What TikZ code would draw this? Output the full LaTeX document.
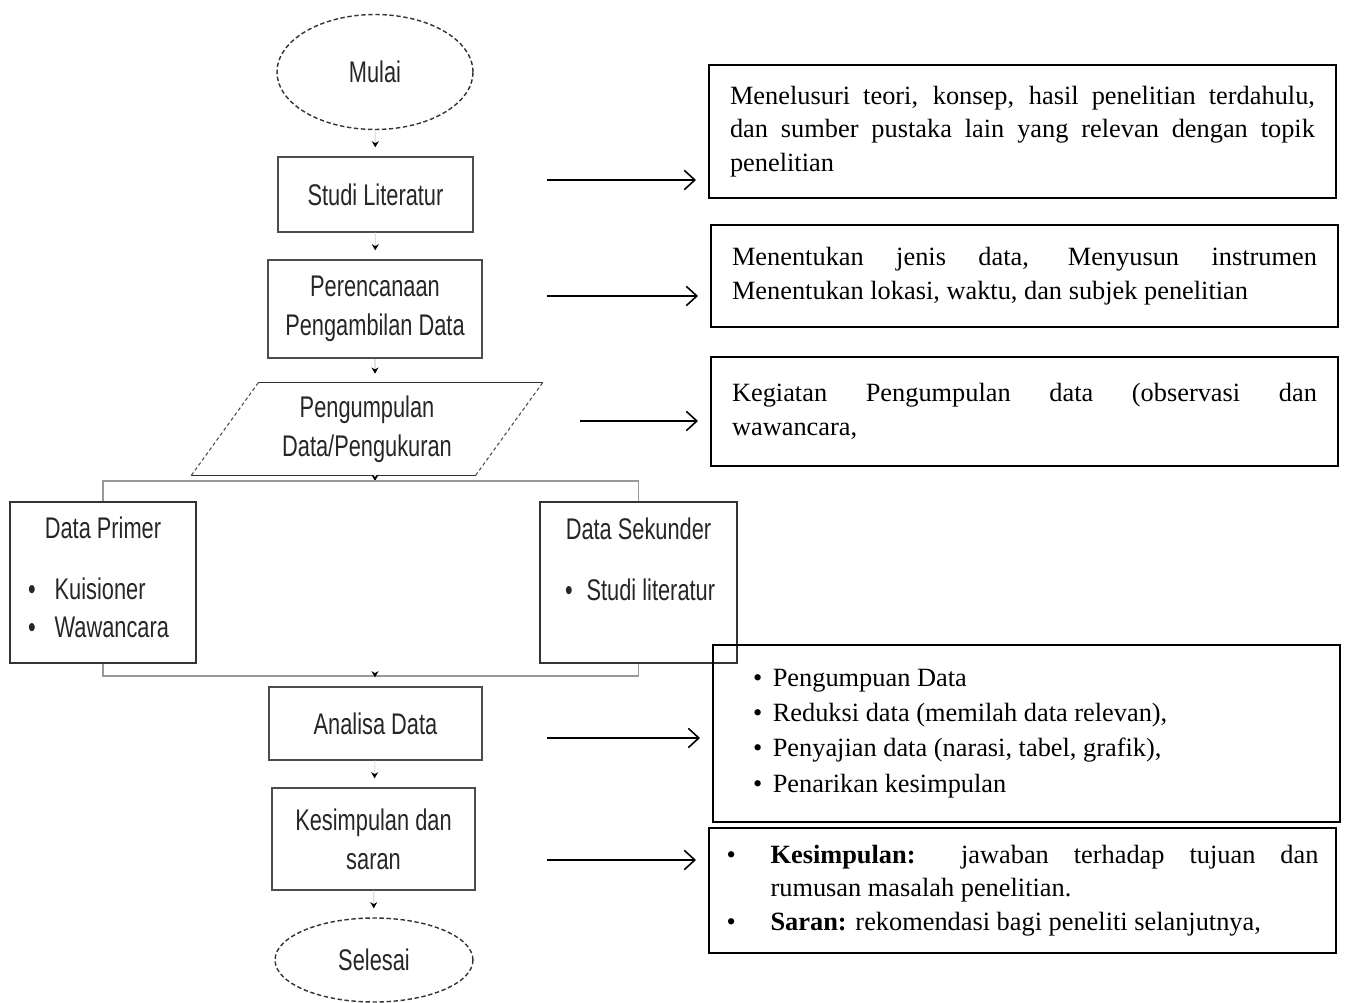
\documentclass[tikz,border=0pt]{standalone}
\usepackage{fontspec}
\setmainfont{Liberation Serif}
\newfontfamily\flowfont[FakeStretch=0.73]{Liberation Sans}
\usetikzlibrary{shapes.geometric, arrows.meta, positioning}

\tikzset{
    flow/.style={font={\flowfont\fontsize{17}{22}\selectfont}, text=black!85, align=center, inner sep=0pt},
    flowbox/.style={flow, rectangle, draw=black!70, line width=0.8pt},
    terminal/.style={flow, ellipse, draw=black!80, line width=0.8pt, dash pattern=on 2.5pt off 1.5pt},
    databox/.style={flow, rectangle, draw=black!80, line width=0.9pt, align=flush left, inner xsep=0.3cm, inner ysep=0pt},
    infobox/.style={rectangle, draw, line width=1.2pt, font={\fontsize{15}{19}\selectfont}, align=justify, inner xsep=0.42cm, inner ysep=0pt, minimum width=12.54cm},
    flowline/.style={draw=black!12, line width=0.6pt, -{Stealth[black, length=3.5pt, width=4pt]}, shorten >=0.18cm},
    branch/.style={draw=black!40, line width=0.7pt},
    infoarrow/.style={line width=0.9pt, -{Straight Barb[length=6pt, width=11pt]}, shorten >=0.24cm}
}

\begin{document}
\begin{tikzpicture}[x=0.02cm, y=-0.02cm]
        \useasboundingbox (0,0) rectangle (1347,1003);

        \node[terminal, minimum width=3.92cm, minimum height=2.3cm] (mulai) at (375,72) {Mulai};
        \node[flowbox, minimum width=3.9cm, minimum height=1.5cm] (studi) at (375.5,194.5) {Studi Literatur};
        \node[flowbox, minimum width=4.28cm, minimum height=1.96cm] (rencana) at (375,309) {Perencanaan\\Pengambilan Data};
        \node[flow, trapezium, trapezium left angle=45, trapezium right angle=135, trapezium stretches body,
              minimum width=7cm, minimum height=1.84cm] (kumpul) at (367,429) {Pengumpulan\\Data/Pengukuran};
        \node[databox, text width=3.12cm, minimum height=3.22cm] (primer) at (103,582.5)
            {{\centering Data Primer\par}\vspace{0.44cm}\hspace*{0.06cm}\textbullet\hspace{0.38cm}Kuisioner\\\hspace*{0.06cm}\textbullet\hspace{0.38cm}Wawancara\par\vspace*{0.2cm}};
        \node[databox, text width=3.34cm, minimum height=3.22cm] (sekunder) at (638.5,582.5)
            {{\centering Data Sekunder\par}\vspace{0.44cm}\hspace*{0.2cm}\textbullet\hspace{0.28cm}Studi literatur\par\vspace*{0.94cm}};
        \node[flowbox, minimum width=4.26cm, minimum height=1.46cm] (analisa) at (375.5,723.5) {Analisa Data};
        \node[flowbox, minimum width=4.06cm, minimum height=2.04cm] (simpulan) at (373.5,839) {Kesimpulan dan\\saran};
        \node[terminal, minimum width=3.96cm, minimum height=1.68cm] (selesai) at (374,960) {Selesai};

        \draw[black!80, line width=0.8pt]
            (kumpul.top left corner) -- (kumpul.top right corner)
            (kumpul.bottom left corner) -- (kumpul.bottom right corner);
        \draw[black!70, line width=0.6pt, dash pattern=on 2pt off 1.5pt]
            (kumpul.bottom left corner) -- (kumpul.top left corner)
            (kumpul.bottom right corner) -- (kumpul.top right corner);

        \coordinate (split) at (375,481);
        \coordinate (join) at (375,676);

        \draw[flowline] (mulai) -- (studi);
        \draw[flowline] (studi) -- (rencana);
        \draw[flowline] (rencana.south) -- (rencana.south |- kumpul.north);
        \draw[flowline, shorten >=0pt] (kumpul.south -| split) -- (split);
        \draw[branch] (primer.north) |- (split) -| (sekunder.north);
        \draw[branch] (primer.south) |- (join) -| (sekunder.south);
        \draw[flowline] (join) -- (analisa);
        \draw[flowline] (analisa) -- (simpulan);
        \draw[flowline] (simpulan) -- (selesai);

        \node[infobox, text width=11.7cm, minimum height=2.66cm] (teori) at (1022.5,131.5)
            {Menelusuri teori, konsep, hasil penelitian terdahulu,\linebreak dan sumber pustaka lain yang relevan dengan topik\linebreak penelitian};
        \node[infobox, text width=11.7cm, minimum height=2.04cm] (jenis) at (1024.5,276)
            {Menentukan jenis data, Menyusun instrumen\linebreak Menentukan lokasi, waktu, dan subjek penelitian};
        \node[infobox, text width=11.7cm, minimum height=2.18cm] (kegiatan) at (1024.5,411.5)
            {Kegiatan Pengumpulan data (observasi dan\linebreak wawancara,};
        \node[infobox, align=flush left, inner xsep=0.8cm, text width=10.94cm, minimum height=3.54cm,
              font={\fontsize{15}{20}\selectfont}] (analisis) at (1026.5,733.5)
            {\textbullet\hspace{6pt}Pengumpuan Data\\
             \textbullet\hspace{6pt}Reduksi data (memilah data relevan),\\
             \textbullet\hspace{6pt}Penyajian data (narasi, tabel, grafik),\\
             \textbullet\hspace{6pt}Penarikan kesimpulan};
        \node[infobox, inner xsep=0.3cm, text width=11.84cm, minimum height=2.5cm] (hasil) at (1022.5,890.5)
            {\noindent\hangindent=0.88cm\hangafter=1\makebox[0.88cm][l]{\textbullet}\textbf{Kesimpulan:} jawaban terhadap tujuan dan\linebreak rumusan masalah penelitian.\par
             \noindent\makebox[0.88cm][l]{\textbullet}\textbf{Saran:} rekomendasi bagi peneliti selanjutnya,\par\vspace*{0.1cm}};

        \coordinate (a1) at (547,180);
        \coordinate (a2) at (547,296);
        \coordinate (a3) at (580,421);
        \coordinate (a4) at (547,738);
        \coordinate (a5) at (547,860);

        \draw[infoarrow] (a1) -- (a1 -| teori.west);
        \draw[infoarrow] (a2) -- (a2 -| jenis.west);
        \draw[infoarrow] (a3) -- (a3 -| kegiatan.west);
        \draw[infoarrow] (a4) -- (a4 -| analisis.west);
        \draw[infoarrow] (a5) -- (a5 -| hasil.west);
\end{tikzpicture}
\end{document}
